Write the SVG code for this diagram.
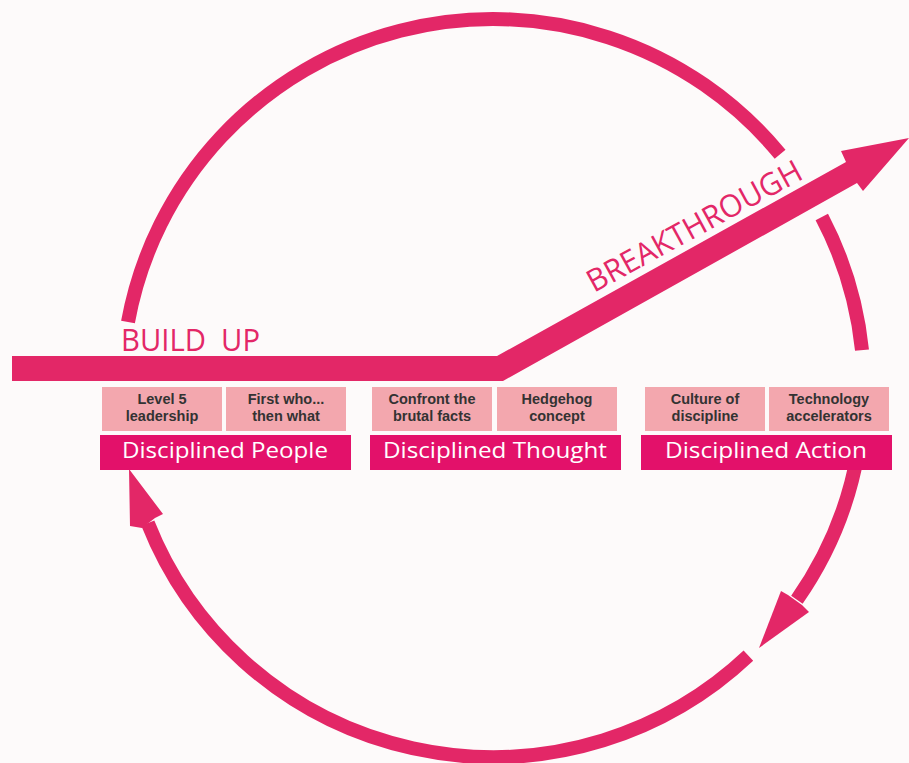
<svg xmlns="http://www.w3.org/2000/svg" width="909" height="763" viewBox="0 0 909 763">
<style>
.arc{fill:none;stroke:#E32767;stroke-width:14;stroke-linecap:butt}
.head{fill:#E32767}
.lb{fill:#F3A7AE}
.db{fill:#E3116A}
.st{font-family:"Liberation Sans",Arial,sans-serif;font-weight:bold;font-size:14.5px;fill:#333333;text-anchor:middle}
.dt{font-family:"Open Sans","Noto Sans",sans-serif;font-size:22.5px;fill:#FFFFFF}
.pk{font-family:"Open Sans","Noto Sans",sans-serif;font-size:31px;fill:#E32767}
</style>
<rect x="0" y="0" width="909" height="763" fill="#FDFAFA"/>
<g id="connectors">
<path class="arc" d="M 128,322 A 371 369 0 0 1 780.1,154.3"/>
<path class="arc" d="M 821.8,217 A 371 369 0 0 1 862,350.1"/>
<path class="arc" d="M 858,452 A 371 369 0 0 1 796.9,599.7"/>
<polygon class="head" points="759,648 781,591 788,595 802,605 809,612"/>
<path class="arc" d="M 748.4,655.7 A 371 369 0 0 1 147.8,523.2"/>
<polygon class="head" points="129,469 163,514 155,518 142,528 130,526"/>
<polygon id="main-arrow" class="head" points="12,356 497,356 846,162 841,151 909,138 863,191 857,183 503,381 12,381"/>
</g>
<g id="build-up"><text class="pk" x="121" y="351" textLength="139" lengthAdjust="spacingAndGlyphs" xml:space="preserve">BUILD  UP</text></g>
<g id="breakthrough"><text class="pk" transform="translate(594,293) rotate(-28.6)" x="0" y="0" textLength="240" lengthAdjust="spacingAndGlyphs">BREAKTHROUGH</text></g>
<g id="level5"><rect class="lb" x="102" y="387" width="120" height="44"/><text class="st" x="162" y="404">Level 5</text><text class="st" x="162" y="421">leadership</text></g>
<g id="firstwho"><rect class="lb" x="226" y="387" width="120" height="44"/><text class="st" x="286" y="404">First who...</text><text class="st" x="286" y="421">then what</text></g>
<g id="confront"><rect class="lb" x="372" y="387" width="120" height="44"/><text class="st" x="432" y="404">Confront the</text><text class="st" x="432" y="421">brutal facts</text></g>
<g id="hedgehog"><rect class="lb" x="497" y="387" width="120" height="44"/><text class="st" x="557" y="404">Hedgehog</text><text class="st" x="557" y="421">concept</text></g>
<g id="culture"><rect class="lb" x="645" y="387" width="120" height="44"/><text class="st" x="705" y="404">Culture of</text><text class="st" x="705" y="421">discipline</text></g>
<g id="technology"><rect class="lb" x="769" y="387" width="120" height="44"/><text class="st" x="829" y="404">Technology</text><text class="st" x="829" y="421">accelerators</text></g>
<g id="people"><rect class="db" x="100" y="435" width="251" height="35"/><text class="dt" x="122" y="458" textLength="206" lengthAdjust="spacingAndGlyphs">Disciplined People</text></g>
<g id="thought"><rect class="db" x="370" y="435" width="251" height="35"/><text class="dt" x="383" y="458" textLength="224" lengthAdjust="spacingAndGlyphs">Disciplined Thought</text></g>
<g id="action"><rect class="db" x="641" y="435" width="251" height="35"/><text class="dt" x="665" y="458" textLength="202" lengthAdjust="spacingAndGlyphs">Disciplined Action</text></g>
</svg>
